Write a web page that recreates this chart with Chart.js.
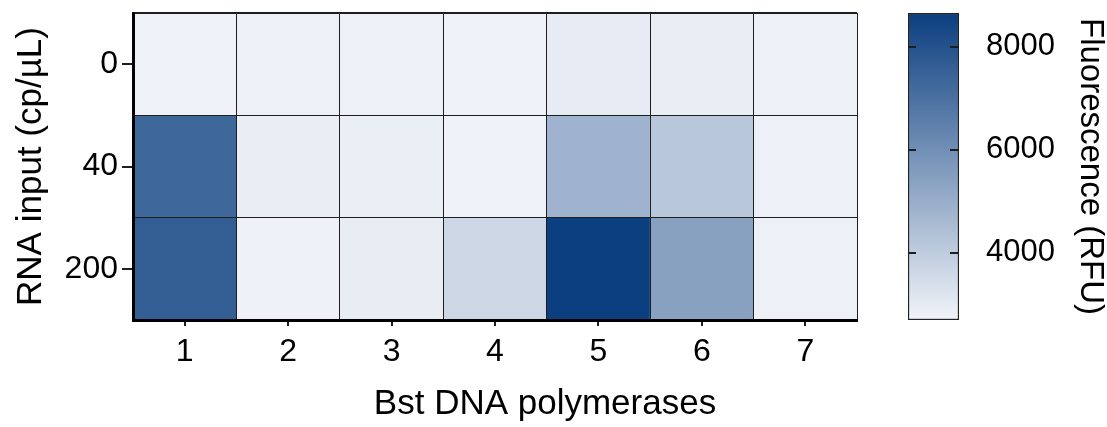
<!DOCTYPE html>
<html>
<head>
<meta charset="utf-8">
<title>Fluorescence by Bst DNA polymerase and RNA input</title>
<script src="https://cdn.jsdelivr.net/npm/chart.js@4/dist/chart.umd.min.js"></script>
<style>
  html, body { margin: 0; padding: 0; background: #ffffff; }
  #wrap { position: relative; width: 1107px; height: 427px; overflow: hidden; }
  #heat { position: absolute; left: 0; top: 0; }
  #bar { position: absolute; left: 880px; top: 0; }
</style>
</head>
<body>
<div id="wrap">
  <canvas id="heat" width="1090" height="427"></canvas>
  <canvas id="bar" width="227" height="427"></canvas>
</div>
<script>
// Columns: Bst DNA polymerase variants
const polymerases = ['1', '2', '3', '4', '5', '6', '7'];
// Rows: RNA input (cp/µL), top to bottom
const rnaInputs = ['0', '40', '200'];

// Fluorescence (RFU) per polymerase, one array per RNA input
const rfuInput0   = [2750, 2820, 2800, 2760, 2950, 2900, 2820];
const rfuInput40  = [7320, 2900, 2870, 2760, 4810, 4160, 2800];
const rfuInput200 = [7610, 2790, 2920, 3670, 8620, 5410, 2800];

// Colour scale range and its labelled ticks
const colorMin = 2700;
const colorMax = 8650;
const colorTicks = [4000, 6000, 8000];

const rowValues = [rfuInput0, rfuInput40, rfuInput200];

const FONT = '"Liberation Sans", Arial, Helvetica, sans-serif';
const LOW = [241, 244, 249];
const HIGH = [11, 62, 127];

function colorFor(v) {
  let t = (v - colorMin) / (colorMax - colorMin);
  t = Math.max(0, Math.min(1, t));
  const c = LOW.map((lo, i) => Math.round(lo + (HIGH[i] - lo) * t));
  return `rgb(${c[0]},${c[1]},${c[2]})`;
}

// Keep axes from reserving extra room for label overflow
function noOverflow(s) {
  s.paddingTop = 0;
  s.paddingBottom = 0;
  s.paddingLeft = 0;
  s.paddingRight = 0;
}

// One floating-bar dataset per row; each bar spans one row band on the y scale
const heatDatasets = rowValues.map((vals, r) => ({
  label: rnaInputs[r],
  data: vals.map(() => [r, r + 1]),
  backgroundColor: vals.map(colorFor),
  borderWidth: 0,
  grouped: false,
  categoryPercentage: 1,
  barPercentage: 1,
  xAxisID: 'x',
  yAxisID: 'y'
}));

const frameColor = '#1e1e1e';

new Chart(document.getElementById('heat'), {
  type: 'bar',
  data: { labels: polymerases, datasets: heatDatasets },
  options: {
    responsive: false,
    animation: false,
    events: [],
    layout: { padding: { top: 13, right: 0, left: 0, bottom: 0 } },
    plugins: {
      legend: { display: false },
      tooltip: { enabled: false },
      title: {
        display: true,
        position: 'bottom',
        text: 'Bst DNA polymerases',
        color: '#000',
        font: { family: FONT, size: 35, weight: 'normal', lineHeight: 1.2 },
        padding: { top: 0, bottom: 1.5 }
      }
    },
    scales: {
      x: {
        type: 'category',
        position: 'bottom',
        offset: true,
        grid: { offset: false, drawOnChartArea: false, drawTicks: true, tickLength: 6, color: frameColor, lineWidth: 2 },
        border: { display: true, color: '#000', width: 3, z: 2 },
        ticks: { color: '#000', font: { family: FONT, size: 32 }, padding: 7, maxRotation: 0, autoSkip: false },
        afterFit: (s) => { s.height = 63.5; noOverflow(s); }
      },
      xg: {
        type: 'category',
        position: 'bottom',
        offset: true,
        grid: {
          offset: true, drawOnChartArea: true, drawTicks: false, z: 1, color: frameColor,
          lineWidth: (c) => (c.index === polymerases.length ? 2 : 1)
        },
        border: { display: false },
        ticks: { display: false },
        afterFit: (s) => { s.height = 0; noOverflow(s); }
      },
      y: {
        type: 'linear',
        position: 'left',
        min: 0,
        max: rnaInputs.length,
        reverse: true,
        afterBuildTicks: (s) => { s.ticks = rnaInputs.map((_, i) => ({ value: i + 0.5 })); },
        ticks: {
          color: '#000',
          font: { family: FONT, size: 32 },
          padding: 4,
          callback: (v, i) => rnaInputs[i]
        },
        grid: { drawOnChartArea: false, drawTicks: true, tickLength: 11, color: frameColor, lineWidth: 2 },
        border: { display: true, color: '#000', width: 3, z: 2 },
        title: {
          display: true,
          text: 'RNA input (cp/µL)',
          color: '#000',
          font: { family: FONT, size: 35, lineHeight: 1.2 },
          padding: { top: 10, bottom: 0 }
        },
        afterFit: (s) => { s.width = 133; noOverflow(s); }
      },
      yg: {
        type: 'linear',
        position: 'left',
        min: 0,
        max: rnaInputs.length,
        reverse: true,
        afterBuildTicks: (s) => {
          s.ticks = [];
          for (let i = 0; i <= rnaInputs.length; i++) s.ticks.push({ value: i });
        },
        grid: {
          drawOnChartArea: true, drawTicks: false, z: 1, color: frameColor,
          lineWidth: (c) => (c.index === 0 ? 2 : 1)
        },
        border: { display: false },
        ticks: { display: false },
        afterFit: (s) => { s.width = 0; noOverflow(s); }
      },
      // empty right-hand band that leaves room for the colour bar
      gap: {
        type: 'linear',
        position: 'right',
        display: true,
        grid: { display: false, drawTicks: false },
        border: { display: false },
        ticks: { display: false },
        afterFit: (s) => { s.width = 233; noOverflow(s); }
      }
    }
  }
});

// Short inward tick marks on both sides of the colour bar
const innerTicks = {
  id: 'innerTicks',
  afterDatasetsDraw(chart) {
    const { ctx, chartArea } = chart;
    const ys = chart.scales.y;
    ctx.save();
    ctx.strokeStyle = '#1e1e1e';
    ctx.lineWidth = 2;
    ys.ticks.forEach((t) => {
      const py = Math.round(ys.getPixelForValue(t.value));
      ctx.beginPath();
      ctx.moveTo(chartArea.left, py);
      ctx.lineTo(chartArea.left + 8, py);
      ctx.moveTo(chartArea.right - 9, py);
      ctx.lineTo(chartArea.right, py);
      ctx.stroke();
    });
    ctx.restore();
  }
};

new Chart(document.getElementById('bar'), {
  type: 'bar',
  data: {
    labels: ['RFU'],
    datasets: [{
      data: [[colorMin, colorMax]],
      backgroundColor: (c) => {
        const area = c.chart.chartArea;
        if (!area) return colorFor(colorMin);
        const ys = c.chart.scales.y;
        const g = c.chart.ctx.createLinearGradient(0, ys.getPixelForValue(colorMin), 0, ys.getPixelForValue(colorMax));
        g.addColorStop(0, colorFor(colorMin));
        g.addColorStop(1, colorFor(colorMax));
        return g;
      },
      borderColor: '#222',
      borderWidth: 1.5,
      borderSkipped: false,
      categoryPercentage: 1,
      barPercentage: 1
    }]
  },
  plugins: [innerTicks],
  options: {
    responsive: false,
    animation: false,
    events: [],
    layout: { padding: { top: 13, bottom: 107, left: 28, right: 0 } },
    plugins: { legend: { display: false }, tooltip: { enabled: false } },
    scales: {
      x: { display: false, offset: true },
      y: {
        type: 'linear',
        position: 'right',
        min: colorMin,
        max: colorMax,
        afterBuildTicks: (s) => { s.ticks = colorTicks.map((v) => ({ value: v })); },
        ticks: { color: '#000', font: { family: FONT, size: 31 }, padding: 27, callback: (v) => String(v) },
        grid: { display: false, drawTicks: false, tickLength: 0 },
        border: { display: false },
        title: {
          display: true,
          text: 'Fluorescence (RFU)',
          color: '#000',
          font: { family: FONT, size: 33, lineHeight: 1 },
          padding: { top: 0.5, bottom: 0 }
        },
        afterFit: (s) => { s.width = 148; noOverflow(s); }
      }
    }
  }
});
</script>
</body>
</html>
